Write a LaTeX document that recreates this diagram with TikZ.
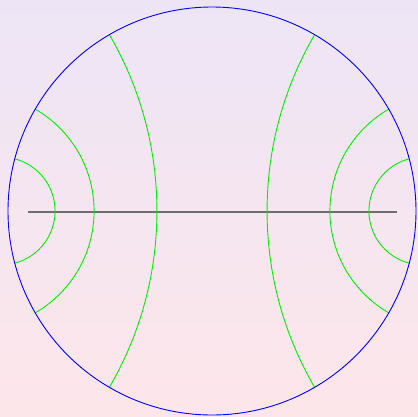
\documentclass[tikz,border=0pt]{standalone}
\definecolor{bgtop}{RGB}{237,229,246}
\definecolor{bgbot}{RGB}{253,230,234}
\definecolor{geo}{RGB}{0,240,0}
\definecolor{axisgray}{RGB}{110,110,110}
\tikzset{
  geodesic/.style={geo, line width=0.9pt},
  rim/.style={blue, line width=0.9pt},
  axisline/.style={axisgray, line width=1.6pt}
}
\begin{document}
\begin{tikzpicture}[x=204pt,y=204pt]
\shade[top color=bgtop, bottom color=bgbot] (-212pt,-205pt) rectangle (206pt,211pt);
\useasboundingbox (-212pt,-205pt) rectangle (206pt,211pt);
\coordinate (O) at (0,0);
\coordinate (L) at (-0.9,-0.005);
\coordinate (R) at (0.905,-0.005);
\draw[axisline] (L) -- (R);
\begin{scope}
\clip (O) circle (1);
\foreach \c/\r in {1.0335/0.2643, 1.1543/0.5763, 1.9870/1.7170}{
  \draw[geodesic] (\c,0) circle (\r);
  \draw[geodesic] (-\c,0) circle (\r);
}
\end{scope}
\draw[rim] (O) circle (1);
\end{tikzpicture}
\end{document}
